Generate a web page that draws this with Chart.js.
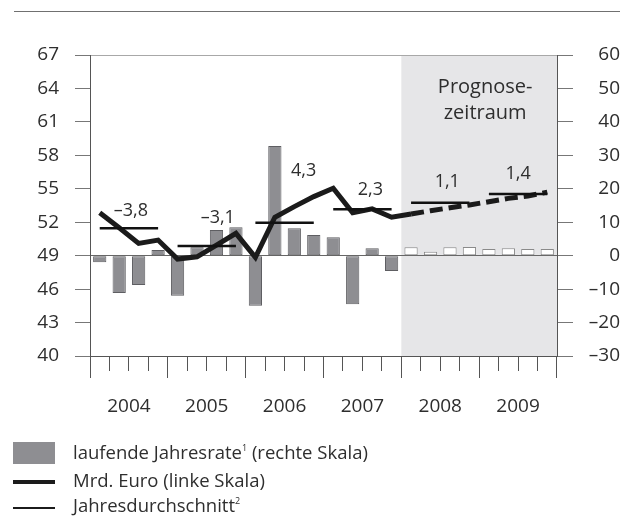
<!DOCTYPE html>
<html>
<head>
<meta charset="utf-8">
<script src="https://cdn.jsdelivr.net/npm/chart.js@4.4.1/dist/chart.umd.min.js"></script>
<style>
  body { margin: 0; background: #fff; }
  #wrap { position: relative; width: 620px; height: 516px; font-family: "Open Sans", sans-serif; color: #2e2e2e; overflow: hidden; }
  #chart { position: absolute; left: 0; top: 0; }
  .rule { position: absolute; left: 14px; right: 0; top: 11px; height: 1px; background: #707070; }
  .row { position: absolute; left: 0; height: 24px; line-height: 24px; font-size: 18.5px; white-space: nowrap; }
  .row span.txt { position: absolute; left: 73px; top: 0; }
  .sw { position: absolute; left: 13px; }
  sup { font-size: 9px; vertical-align: 8px; line-height: 0; }
</style>
</head>
<body>
<div id="wrap">
  <div class="rule"></div>
  <canvas id="chart" width="620" height="516"></canvas>
  <div class="row" style="top:440px"><div class="sw" style="top:2px;width:42px;height:22px;background:#8e8e92"></div><span class="txt">laufende Jahresrate<sup>1</sup> (rechte Skala)</span></div>
  <div class="row" style="top:468px"><div class="sw" style="top:12px;width:42px;height:4px;background:#1b1b1b"></div><span class="txt">Mrd. Euro (linke Skala)</span></div>
  <div class="row" style="top:493px"><div class="sw" style="top:14px;width:42px;height:2px;background:#1b1b1b"></div><span class="txt">Jahresdurchschnitt<sup>2</sup></span></div>
</div>
<script>
// quarters 2004 Q1 .. 2009 Q4
const quarters = ['I/04','II/04','III/04','IV/04','I/05','II/05','III/05','IV/05',
  'I/06','II/06','III/06','IV/06','I/07','II/07','III/07','IV/07',
  'I/08','II/08','III/08','IV/08','I/09','II/09','III/09','IV/09'];
const years = ['2004','2005','2006','2007','2008','2009'];

// laufende Jahresrate, % (right scale)
const rateValues = [-2.0, -11.2, -8.8, 1.7, -12.0, 2.5, 7.7, 8.5,
  -15.0, 32.8, 8.2, 6.2, 5.5, -14.5, 2.2, -4.6,
  2.5, 1.2, 2.5, 2.6, 2.0, 2.2, 2.0, 2.0];

// Mrd. Euro (left scale)
const euroValues = [52.85, 51.5, 50.1, 50.4, 48.7, 48.9, 49.95, 51.0,
  48.85, 52.45, 53.4, 54.3, 55.05, 52.85, 53.2, 52.45,
  52.74, 53.03, 53.3, 53.55, 53.84, 54.14, 54.35, 54.7];

// Jahresdurchschnitt (left scale) and its labels
const yearAvg = [51.45, 49.87, 51.96, 53.16, 53.75, 54.53];
const avgLabels = ['\u20133,8', '\u20133,1', '4,3', '2,3', '1,1', '1,4'];

const leftMin = 40, leftMax = 67, leftStep = 3;
const rightMin = -30, rightMax = 60, rightStep = 10;
const forecastStart = 16; // first forecast quarter (2008 Q1)

const FONT = '"Open Sans", sans-serif';

const extras = {
  id: 'extras',
  beforeDraw(chart) {
    const { ctx, chartArea, scales } = chart;
    const half = (scales.x.getPixelForValue(1) - scales.x.getPixelForValue(0)) / 2;
    const left = scales.x.getPixelForValue(forecastStart) - half;
    ctx.save();
    ctx.fillStyle = '#e6e6e8';
    ctx.fillRect(left, chartArea.top, chartArea.right - left, chartArea.bottom - chartArea.top);
    ctx.restore();
  },
  afterDatasetsDraw(chart, args, opts) {
    const { ctx, chartArea, scales } = chart;
    ctx.save();
    ctx.fillStyle = '#2e2e2e';
    ctx.textAlign = 'center';
    ctx.textBaseline = 'middle';
    ctx.font = '18px ' + FONT;
    yearAvg.forEach((v, i) => {
      const x0 = scales.x.getPixelForValue(i * 4);
      const x1 = scales.x.getPixelForValue(i * 4 + 3);
      const [dx, dy] = opts.nudge[i];
      ctx.fillText(avgLabels[i], (x0 + x1) / 2 + dx, scales.y.getPixelForValue(v) + dy);
    });
    const half = (scales.x.getPixelForValue(1) - scales.x.getPixelForValue(0)) / 2;
    const left = scales.x.getPixelForValue(forecastStart) - half;
    const cx = (left + chartArea.right) / 2 + 6;
    ctx.font = '20px ' + FONT;
    ctx.fillText('Prognose-', cx, chartArea.top + 32);
    ctx.fillText('zeitraum', cx, chartArea.top + 58);
    ctx.restore();
  }
};

new Chart(document.getElementById('chart'), {
  type: 'bar',
  data: {
    labels: quarters,
    datasets: [
      {
        type: 'line',
        label: 'Mrd. Euro (linke Skala)',
        data: euroValues,
        yAxisID: 'y',
        borderColor: '#1b1b1b',
        borderWidth: 5,
        pointRadius: 0,
        tension: 0,
        order: 1,
        segment: {
          borderDash: ctx => ctx.p0DataIndex >= forecastStart ? [13, 6] : undefined
        }
      },
      {
        type: 'line',
        label: 'Jahresdurchschnitt',
        data: quarters.map((q, i) => yearAvg[Math.floor(i / 4)]),
        yAxisID: 'y',
        borderColor: '#111',
        borderWidth: 2.5,
        pointRadius: 0,
        tension: 0,
        order: 0,
        segment: {
          borderColor: ctx => ctx.p0DataIndex % 4 === 3 ? 'rgba(0,0,0,0)' : '#111'
        }
      },
      {
        label: 'laufende Jahresrate (rechte Skala)',
        data: rateValues,
        yAxisID: 'y2',
        backgroundColor: rateValues.map((v, i) => i < forecastStart ? '#8e8e92' : '#ffffff'),
        borderColor: rateValues.map((v, i) => i < forecastStart ? '#5e5e62' : '#8a8a8a'),
        borderWidth: 1,
        borderSkipped: false,
        categoryPercentage: 1,
        barPercentage: 0.68,
        order: 2
      }
    ]
  },
  options: {
    responsive: false,
    animation: false,
    devicePixelRatio: 1,
    layout: { padding: { top: 55, left: 0, right: 0, bottom: 88 } },
    plugins: {
      legend: { display: false },
      tooltip: { enabled: false },
      extras: { nudge: [[2, -17], [11, -28], [19, -52], [8, -19], [7, -21], [0, -20]] }
    },
    scales: {
      x: {
        type: 'category',
        position: 'bottom',
        offset: true,
        grid: {
          offset: true,
          drawOnChartArea: false,
          tickLength: 22,
          tickColor: '#555',
          tickBorderDash: ctx => (ctx.index === undefined || ctx.index % 4 === 0) ? [] : [14, 40]
        },
        border: { display: true, color: '#555' },
        ticks: { display: false },
        afterFit: s => { s.height = 22; }
      },
      xYear: {
        type: 'category',
        axis: 'x',
        labels: years,
        position: 'bottom',
        offset: true,
        weight: 1,
        grid: { display: false },
        border: { display: false },
        ticks: { color: '#2e2e2e', font: { family: FONT, size: 19 }, padding: 9, maxRotation: 0 },
        afterFit: s => { s.height = 50; }
      },
      y: {
        position: 'left',
        min: leftMin,
        max: leftMax,
        ticks: { stepSize: leftStep, color: '#2e2e2e', font: { family: FONT, size: 19 }, padding: 16 },
        grid: { drawOnChartArea: false, tickLength: 15, tickColor: '#777' },
        border: { display: true, color: '#555' },
        afterFit: s => { s.width = 90; }
      },
      y2: {
        position: 'right',
        min: rightMin,
        max: rightMax,
        ticks: {
          stepSize: rightStep, color: '#2e2e2e', font: { family: FONT, size: 19 }, padding: 2,
          crossAlign: 'far',
          callback: v => String(v).replace('-', '\u2013')
        },
        grid: {
          color: ctx => ctx.tick && ctx.tick.value === 0 ? '#666' : (ctx.tick && ctx.tick.value === rightMax ? '#a8a8a8' : 'rgba(0,0,0,0)'),
          tickColor: '#777',
          tickLength: 16
        },
        border: { display: true, color: '#555' },
        afterFit: s => { s.width = 63; }
      }
    }
  },
  plugins: [extras]
});
</script>
</body>
</html>
